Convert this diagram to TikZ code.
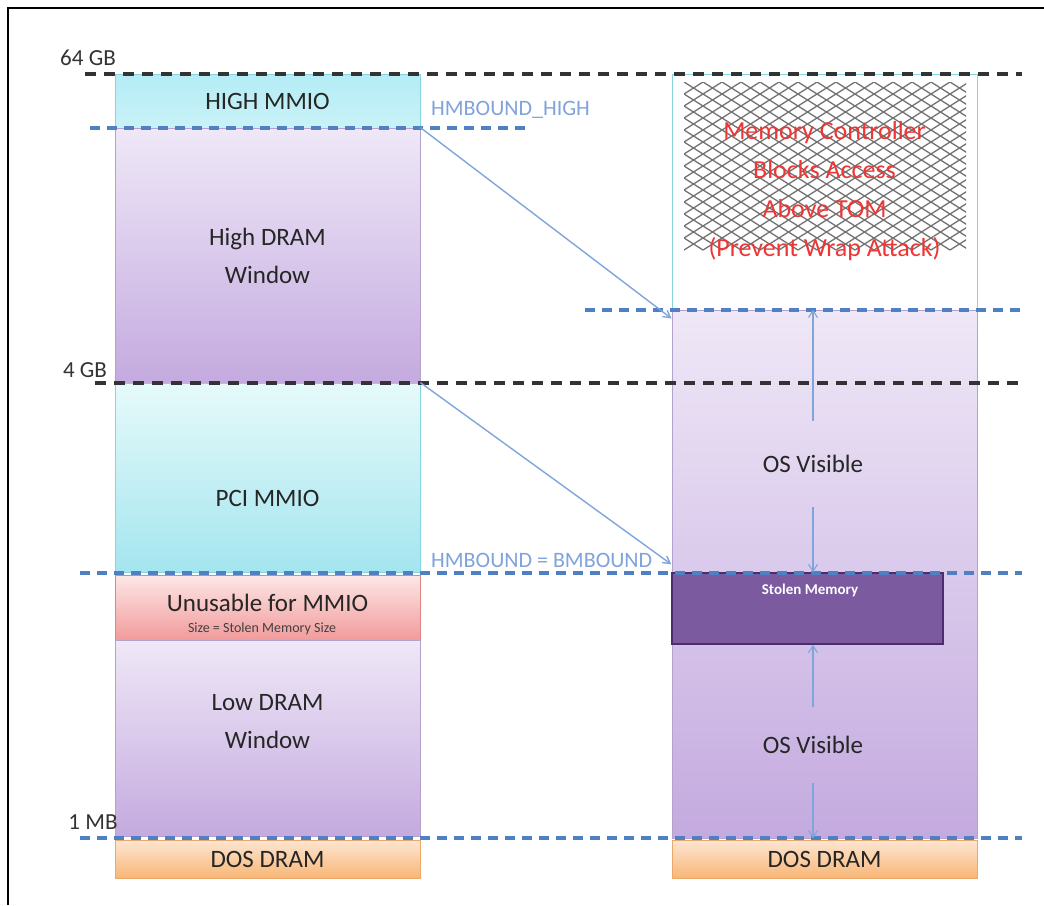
\documentclass[tikz,border=0pt]{standalone}
\usepackage{fontspec}
\setmainfont{Carlito}
\usetikzlibrary{arrows.meta}
\definecolor{lavT}{HTML}{EFE8F7}
\definecolor{lavB}{HTML}{C4AADF}
\definecolor{lavE}{HTML}{B4A2CC}
\definecolor{cyT}{HTML}{B4ECF5}
\definecolor{cyB}{HTML}{C9F2F7}
\definecolor{pciT}{HTML}{E6FAFA}
\definecolor{pciB}{HTML}{A4E5EF}
\definecolor{cyE}{HTML}{86D3E2}
\definecolor{redT}{HTML}{FDE7E7}
\definecolor{redB}{HTML}{F19B9B}
\definecolor{redE}{HTML}{E08585}
\definecolor{orT}{HTML}{FDE6D2}
\definecolor{orB}{HTML}{F8B676}
\definecolor{orE}{HTML}{EBA86A}
\definecolor{stolF}{HTML}{7B5A9F}
\definecolor{stolE}{HTML}{4B2D6B}
\definecolor{dashblue}{HTML}{4F80C4}
\definecolor{lblblue}{HTML}{7FA3DA}
\definecolor{arrblue}{HTML}{7FA6DB}
\definecolor{tomred}{HTML}{F03535}
\begin{document}
\begin{tikzpicture}[x=1pt,y=-1pt,
  memcol/.style={draw, line width=0.8pt, inner sep=0pt, align=center,
    font=\fontsize{25}{38}\selectfont, text=black!85},
  cybox/.style={memcol, draw=cyE, top color=cyT, bottom color=cyB},
  pcibox/.style={memcol, draw=cyE, top color=pciT, bottom color=pciB},
  lavbox/.style={memcol, draw=lavE, top color=lavT, bottom color=lavB},
  redbox/.style={memcol, draw=redE, top color=redT, bottom color=redB},
  orbox/.style={memcol, draw=orE, top color=orT, bottom color=orB},
  txt/.style={inner sep=0pt, align=center, font=\fontsize{25}{38}\selectfont, text=black!85},
  gblbl/.style={inner sep=0pt, font=\fontsize{23}{26}\selectfont, text=black!80},
  bndlbl/.style={inner sep=0pt, anchor=west, font=\fontsize{22}{26}\selectfont, text=lblblue},
  blackdash/.style={line width=4.5pt, black!80, dash pattern=on 11pt off 8pt},
  bluedash/.style={line width=3.5pt, dashblue, dash pattern=on 10pt off 7pt},
  maparrow/.style={line width=1.4pt, arrblue, -{Straight Barb[length=7pt,width=8pt]}},
  visarrow/.style={line width=1.1pt, arrblue, -{Straight Barb[length=7pt,width=9pt]}},
  hatchline/.style={line width=1.3pt, black!55}
]
\useasboundingbox (0,0) rectangle (1044,905);
% frame
\draw[line width=2.5pt, black] (8,905) -- (8,8) -- (1046,8);

% ---- left column ----
\node[cybox, minimum width=305pt, minimum height=54pt] (highmmio) at (267.5,101) {HIGH MMIO};
\node[lavbox, minimum width=305pt, minimum height=255pt] (hdram) at (267.5,255.5) {High DRAM\\Window};
\node[pcibox, minimum width=305pt, minimum height=189pt] (pcimmio) at (267.5,477.5) {};
\node[txt] (pcitxt) at (267.5,498) {PCI MMIO};
\node[redbox, minimum width=305pt, minimum height=65pt] (unusable) at (267.5,607.5) {};
\node[txt] (unusetxt) at (267.5,603) {Unusable for MMIO};
\node[inner sep=0pt, font=\fontsize{14}{15}\selectfont, text=black!75] (sizetxt) at (262,629) {Size = Stolen Memory Size};
\node[lavbox, minimum width=305pt, minimum height=196pt] (ldram) at (267.5,738) {};
\node[txt] (ldramtxt) at (267.5,722) {Low DRAM\\Window};
\node[orbox, minimum width=305pt, minimum height=38pt] (ldos) at (267.5,859) {DOS DRAM};

% ---- right column ----
\node[draw=cyE, fill=white, line width=1pt, minimum width=305pt, minimum height=236pt, inner sep=0pt] (rtop) at (824.5,192) {};
\begin{scope}
  \clip (684,82) rectangle (966,302);
  \foreach \k in {-20,...,16} {
    \draw[hatchline] (684+\k*19,82) -- ++(19*14,12*14);
  }
  \foreach \k in {0,...,36} {
    \draw[hatchline] (684+\k*19,82) -- ++(-19*14,12*14);
  }
\end{scope}
\node[inner sep=0pt, align=center, font=\fontsize{26}{39}\selectfont, text=tomred] (tomtxt) at (824.5,191.5)
  {Memory Controller\\Blocks Access\\Above TOM\\(Prevent Wrap Attack)};
\node[lavbox, minimum width=305pt, minimum height=528pt] (rdram) at (824.5,574) {};
\node[draw=stolE, fill=stolF, line width=1.5pt, minimum width=271pt, minimum height=71pt, inner sep=0pt] (stolen) at (807.5,608.5) {};
\node[inner sep=0pt, font=\bfseries\fontsize{15}{16}\selectfont, text=white] (stoltxt) at (810,590) {Stolen Memory};
\node[orbox, minimum width=305pt, minimum height=38pt] (rdos) at (824.5,859) {DOS DRAM};

\node[txt, minimum height=86pt] (os1) at (813,464) {OS Visible};
\node[txt, minimum height=76pt] (os2) at (813,745) {OS Visible};

% ---- boundary lines ----
\draw[blackdash] (85,74) -- (1022,74);
\draw[bluedash] (90,128) -- (527,128);
\draw[bluedash] (585,310) -- (1022,310);
\draw[blackdash] (95,383) -- (1022,383);
\draw[bluedash] (80,573) -- (1022,573);
\draw[bluedash] (80,838) -- (1022,838);

% ---- labels ----
\node[gblbl] (gb64) at (88,58) {64 GB};
\node[gblbl] (gb4) at (85,370) {4 GB};
\node[gblbl] (mb1) at (93,822) {1 MB};
\node[bndlbl] (hmhigh) at (431,110) {HMBOUND\_HIGH};
\node[bndlbl] (hmeq) at (431,560) {HMBOUND = BMBOUND};

% ---- connectors ----
\draw[maparrow] (hdram.north east) -- ([yshift=-8pt]rtop.south west);
\draw[maparrow] (pcimmio.north east) -- ([yshift=8pt]stolen.north west);
\draw[visarrow] (os1.north) -- (os1.north |- rdram.north);
\draw[visarrow] (os1.south) -- (os1.south |- stolen.north);
\draw[visarrow] (os2.north) -- (os2.north |- stolen.south);
\draw[visarrow] (os2.south) -- (os2.south |- rdram.south);
\end{tikzpicture}
\end{document}
